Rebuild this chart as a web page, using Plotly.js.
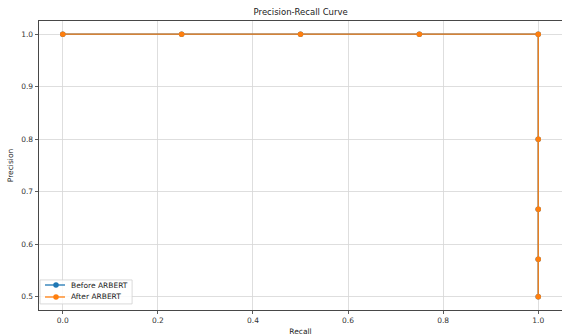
<!DOCTYPE html>
<html><head><meta charset="utf-8">
<script src="https://cdn.plot.ly/plotly-3.0.1.min.js"></script>
<style>html,body{margin:0;padding:0;background:#fff}</style>
</head><body><div id="chart" style="width:562px;height:336px"></div>
<script>
const seriesNames = ['Before ARBERT', 'After ARBERT'];
const seriesColors = ['#1f77b4', '#ff7f0e'];
const recallBefore = [0.0, 0.25, 0.5, 0.75, 1.0, 1.0, 1.0, 1.0, 1.0];
const precisionBefore = [1.0, 1.0, 1.0, 1.0, 1.0, 0.8, 0.6667, 0.5714, 0.5];
const recallAfter = [0.0, 0.25, 0.5, 0.75, 1.0, 1.0, 1.0, 1.0, 1.0];
const precisionAfter = [1.0, 1.0, 1.0, 1.0, 1.0, 0.8, 0.6667, 0.5714, 0.5];
const xTicks = [0.0, 0.2, 0.4, 0.6, 0.8, 1.0];
const yTicks = [0.5, 0.6, 0.7, 0.8, 0.9, 1.0];

const fnt = {family: 'DejaVu Sans', size: 7.5, color: '#333'};
const traces = [
  {x: recallBefore, y: precisionBefore, name: seriesNames[0], mode: 'lines+markers', showlegend: false,
   line: {color: seriesColors[0], width: 1.3}, marker: {color: seriesColors[0], size: 5.5}},
  {x: recallAfter, y: precisionAfter, name: seriesNames[1], mode: 'lines+markers', showlegend: false,
   line: {color: seriesColors[1], width: 1.3}, marker: {color: seriesColors[1], size: 5.5}}
];
const axisCommon = {showline: true, mirror: true, linecolor: '#333', linewidth: 0.9,
  ticks: 'outside', ticklen: 3.5, tickwidth: 0.8, tickcolor: '#333',
  showgrid: true, gridcolor: '#d6d6d6', gridwidth: 0.8, zeroline: false, tickfont: fnt};

// custom compact legend (matplotlib-style)
const legBox = {x0: 0.002, x1: 0.178, y0: 0.021, y1: 0.104};
const legRows = [0.0865, 0.045];
const shapes = [{type: 'rect', xref: 'paper', yref: 'paper', x0: legBox.x0, x1: legBox.x1, y0: legBox.y0, y1: legBox.y1,
  fillcolor: 'rgba(255,255,255,0.8)', line: {color: '#d0d0d0', width: 0.8}}];
const annotations = [];
seriesNames.forEach((n, i) => {
  shapes.push({type: 'line', xref: 'paper', yref: 'paper', x0: 0.0115, x1: 0.0497, y0: legRows[i], y1: legRows[i],
    line: {color: seriesColors[i], width: 1.3}});
  shapes.push({type: 'circle', xref: 'paper', yref: 'paper', xsizemode: 'pixel', ysizemode: 'pixel',
    xanchor: 0.0325, yanchor: legRows[i], x0: -2.75, x1: 2.75, y0: -2.75, y1: 2.75,
    fillcolor: seriesColors[i], line: {width: 0}});
  annotations.push({xref: 'paper', yref: 'paper', x: 0.0574, y: legRows[i], xanchor: 'left', yanchor: 'middle',
    text: n, showarrow: false, font: {family: 'DejaVu Sans', size: 7.5, color: '#222'}});
});

const layout = {
  width: 562, height: 336,
  margin: {l: 39, r: 0, t: 21, b: 26, pad: 0},
  paper_bgcolor: '#fff', plot_bgcolor: '#fff',
  title: {text: 'Precision-Recall Curve', font: {family: 'DejaVu Sans', size: 8.5, color: '#222'},
    x: 0.535, xanchor: 'center', y: 0.963, yanchor: 'middle'},
  xaxis: Object.assign({}, axisCommon, {range: [-0.05, 1.05], tickvals: xTicks,
    ticktext: xTicks.map(v => v.toFixed(1)),
    title: {text: 'Recall', font: {family: 'DejaVu Sans', size: 7.5, color: '#222'}, standoff: 4}}),
  yaxis: Object.assign({}, axisCommon, {range: [0.475, 1.025], tickvals: yTicks,
    ticktext: yTicks.map(v => v.toFixed(1)),
    title: {text: 'Precision', font: {family: 'DejaVu Sans', size: 7.5, color: '#222'}, standoff: 6}}),
  showlegend: false,
  shapes: shapes,
  annotations: annotations
};
Plotly.newPlot('chart', traces, layout, {displayModeBar: false, staticPlot: true});
</script></body></html>
